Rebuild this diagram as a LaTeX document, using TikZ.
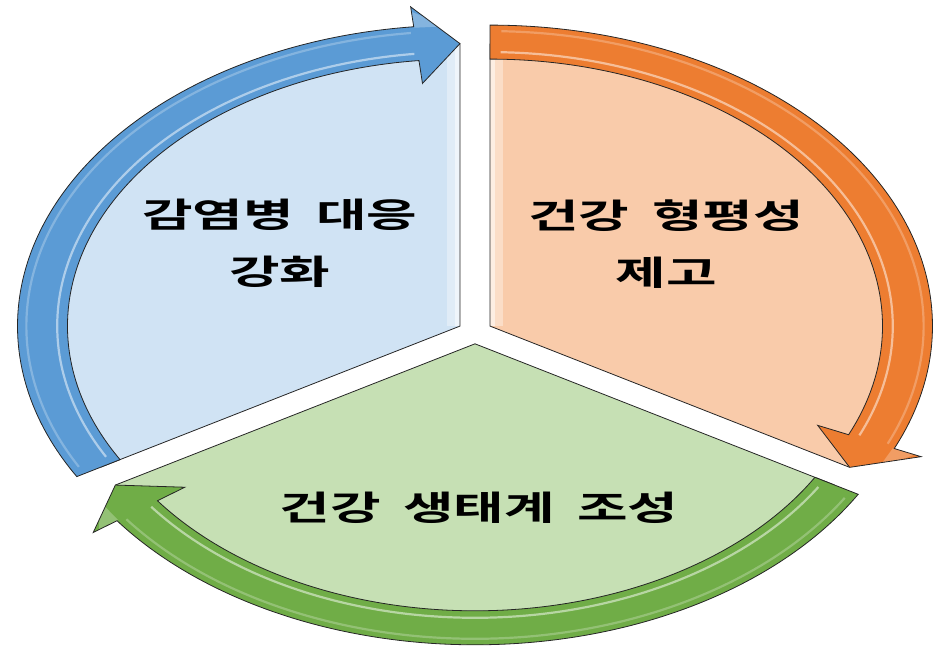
\documentclass[tikz,border=0pt]{standalone}
\usepackage{fontspec}
\newfontfamily\krb[BoldFont={Noto Sans CJK KR Bold},WordSpace=1.8]{Noto Sans CJK KR}
\definecolor{bluA}{HTML}{5B9BD5}
\definecolor{bluS}{HTML}{D0E3F4}
\definecolor{orgA}{HTML}{ED7D31}
\definecolor{orgS}{HTML}{F9CBAA}
\definecolor{grnA}{HTML}{70AD47}
\definecolor{grnS}{HTML}{C6E0B4}
\tikzset{
  segline/.style={draw=black!85, line width=0.8pt},
  lbl/.style={font=\krb\bfseries\fontsize{34}{57}\selectfont, align=center, xscale=1.1, transform shape, text=black, inner sep=0pt},
}
% #1 bisector angle, #2 arrow colour, #3 sector colour
\newcommand\cyclesegment[3]{%
  \pgfmathsetmacro\sA{#1+60}%
  \pgfmathsetmacro\eA{#1-60}%
  \pgfmathsetmacro\bA{#1-54}%
  \pgfmathsetmacro\hA{#1-58.5}%
  \begin{scope}[shift={(#1:11.8)}]
    \fill[#3] (0,0) -- (\sA:282) arc[start angle=\sA, end angle=\eA, radius=282] -- cycle;
    \begin{scope}
      \clip (0,0) -- (\sA:282) arc[start angle=\sA, end angle=\eA, radius=282] -- cycle;
      \draw[white, opacity=0.35, line width=26pt] (0,0) -- (90:320);
      \draw[white, opacity=0.5, line width=10pt] (0,0) -- (90:320);
    \end{scope}
    \draw[segline] (0,0) -- (\sA:282) arc[start angle=\sA, end angle=\eA, radius=282] -- cycle;
    \fill[#2] (\sA:301) arc[start angle=\sA, end angle=\bA, radius=301]
      -- (\bA:321) -- (\eA:282.5) -- (\bA:244) -- (\bA:267)
      arc[start angle=\bA, end angle=\sA, radius=267] -- cycle;
    \draw[white, opacity=0.5, line width=2.2pt]
      (\sA-1.5:274) arc[start angle=\sA-1.5, end angle=\bA+0.5, radius=274];
    \draw[white, opacity=0.25, line width=2.2pt]
      (\sA-1.5:295) arc[start angle=\sA-1.5, end angle=\bA+0.5, radius=295];
    \fill[white, opacity=0.25] (\bA:316) -- (\hA:300) -- (\bA:300) -- cycle;
    \draw[segline] (\sA:301) arc[start angle=\sA, end angle=\bA, radius=301]
      -- (\bA:321) -- (\eA:282.5) -- (\bA:244) -- (\bA:267)
      arc[start angle=\bA, end angle=\sA, radius=267] -- cycle;
  \end{scope}%
}
\begin{document}
\begin{tikzpicture}[x=1pt, y=1pt]
  \path[use as bounding box] (-475pt,-317pt) rectangle (460pt,332pt);
  \begin{scope}[xscale=1.47]
    \cyclesegment{150}{bluA}{bluS}
    \cyclesegment{30}{orgA}{orgS}
    \cyclesegment{270}{grnA}{grnS}
    \node[lbl] (t1) at (-132.7, 89) {감염병 대응\\강화};
    \node[lbl] (t2) at (130, 88) {건강 형평성\\제고};
    \node[lbl] (t3) at (2.7, -176) {건강 생태계 조성};
  \end{scope}
\end{tikzpicture}
\end{document}
